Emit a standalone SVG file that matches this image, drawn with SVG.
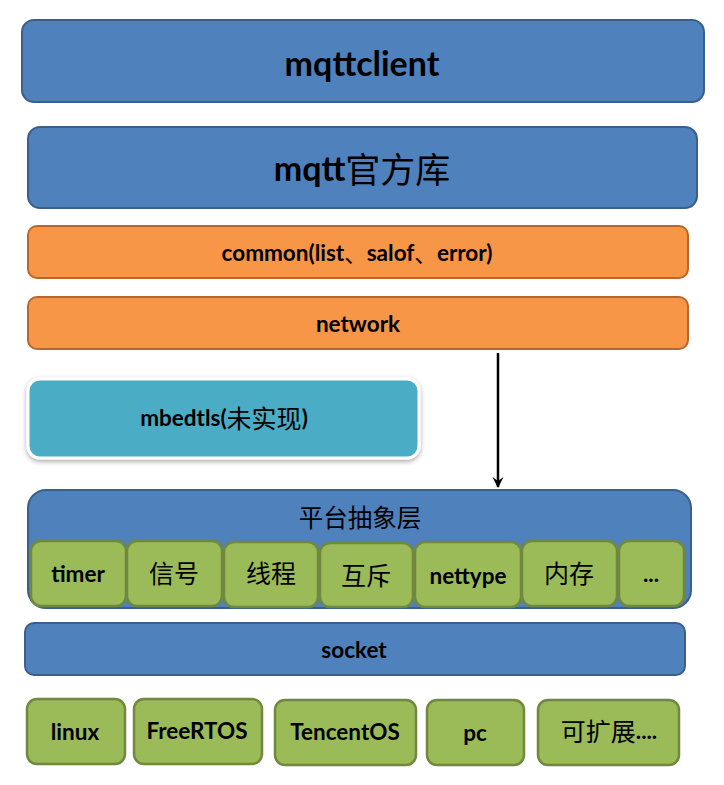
<svg xmlns="http://www.w3.org/2000/svg" width="724" height="785" viewBox="0 0 724 785">
<defs>
<style>
.blue{fill:#4f81bd;stroke:#3a5f8b;stroke-width:2}
.orange{fill:#f79646;stroke:#b7672b;stroke-width:2}
.green{fill:#9bbb59;stroke:#71893f;stroke-width:2.5}
.teal{fill:#4bacc6;stroke:#ffffff;stroke-width:3}
.t{font-family:Lato,"Open Sans","Liberation Sans","Noto Sans CJK SC",sans-serif;font-weight:bold;fill:#000;text-anchor:middle;dominant-baseline:central}
.cjk{font-family:"Noto Sans CJK SC",sans-serif;font-weight:normal}
</style>
<filter id="sh" x="-10%" y="-20%" width="120%" height="150%">
<feDropShadow dx="0" dy="2" stdDeviation="2.5" flood-color="#000" flood-opacity="0.35"/>
</filter>
<marker id="arr" markerWidth="12" markerHeight="12" refX="10" refY="6" orient="auto" markerUnits="userSpaceOnUse" viewBox="0 0 12 12">
<path d="M0,0.5 L11,6 L0,11.5 L4,6 Z" fill="#000"/>
</marker>
</defs>

<g id="mqttclient">
<rect class="blue" x="22" y="20" width="682" height="82" rx="12"/>
<text class="t" x="362" y="62" font-size="34">mqttclient</text>
</g>

<g id="mqtt-official">
<rect class="blue" x="28" y="127" width="669" height="81" rx="12"/>
<text class="t" x="362" y="167" font-size="34">mqtt<tspan class="cjk" font-size="35">官方库</tspan></text>
</g>

<g id="common">
<rect class="orange" x="28" y="226" width="660" height="52" rx="9"/>
<text class="t" x="357" y="252" font-size="22.5">common(list<tspan class="cjk">、</tspan>salof<tspan class="cjk">、</tspan>error)</text>
</g>

<g id="network">
<rect class="orange" x="28" y="297" width="660" height="52" rx="9"/>
<text class="t" x="358" y="323" font-size="22.5">network</text>
</g>

<g id="mbedtls">
<rect class="teal" x="28" y="379" width="391" height="79" rx="12" filter="url(#sh)"/>
<text class="t" x="224" y="417" font-size="22.5">mbedtls(<tspan class="cjk" font-size="25">未实现</tspan>)</text>
</g>

<g id="platform">
<rect class="blue" x="28" y="490" width="663" height="118" rx="18"/>
<text class="t cjk" x="360" y="516" font-size="24.5">平台抽象层</text>
</g>

<g id="timer"><rect class="green" x="31" y="541" width="95" height="65" rx="10"/><text class="t" x="78" y="573" font-size="22.5">timer</text></g>
<g id="signal"><rect class="green" x="127" y="541" width="95" height="65" rx="10"/><text class="t cjk" x="174" y="572" font-size="25">信号</text></g>
<g id="thread"><rect class="green" x="224" y="542" width="94" height="65" rx="10"/><text class="t cjk" x="271" y="572" font-size="25">线程</text></g>
<g id="mutex"><rect class="green" x="320" y="543" width="93" height="64" rx="10"/><text class="t cjk" x="366" y="574" font-size="25">互斥</text></g>
<g id="nettype"><rect class="green" x="415" y="542" width="106" height="65" rx="10"/><text class="t" x="468" y="575" font-size="22.5">nettype</text></g>
<g id="memory"><rect class="green" x="522" y="541" width="95" height="65" rx="10"/><text class="t cjk" x="569" y="572" font-size="25">内存</text></g>
<g id="more"><rect class="green" x="619" y="541" width="65" height="65" rx="10"/><text class="t" x="651" y="573" font-size="22.5">...</text></g>

<g id="socket">
<rect class="blue" x="25" y="623" width="660" height="52" rx="9"/>
<text class="t" x="354" y="649" font-size="22.5">socket</text>
</g>

<g id="linux"><rect class="green" x="27" y="699" width="98" height="65" rx="10"/><text class="t" x="75" y="731" font-size="22.5">linux</text></g>
<g id="freertos"><rect class="green" x="134" y="699" width="128" height="65" rx="10"/><text class="t" x="197" y="730" font-size="22.5">FreeRTOS</text></g>
<g id="tencentos"><rect class="green" x="275" y="700" width="141" height="65" rx="10"/><text class="t" x="345" y="731" font-size="22.5">TencentOS</text></g>
<g id="pc"><rect class="green" x="427" y="700" width="97" height="65" rx="10"/><text class="t" x="475" y="732" font-size="22.5">pc</text></g>
<g id="extensible"><rect class="green" x="538" y="700" width="141" height="65" rx="10"/><text class="t" x="609" y="730" font-size="22.5"><tspan class="cjk" font-size="25">可扩展</tspan>....</text></g>

<g id="connectors">
<line x1="498" y1="353" x2="498" y2="487" stroke="#000" stroke-width="2.5" marker-end="url(#arr)"/>
</g>
</svg>
